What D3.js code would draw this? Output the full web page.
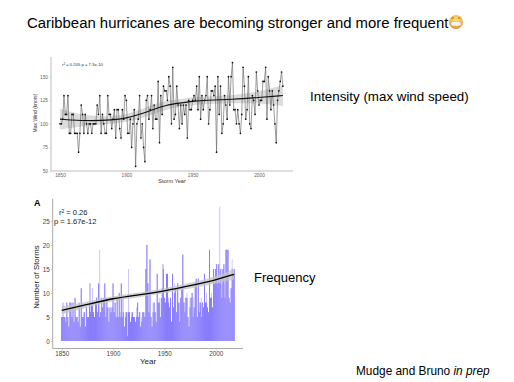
<!DOCTYPE html>
<html><head><meta charset="utf-8">
<script src="https://cdn.jsdelivr.net/npm/d3@7"></script>
<style>html,body{margin:0;padding:0;background:#fff}svg{display:block}text{font-family:"Liberation Sans",Arial,sans-serif}</style>
</head><body><svg id="c" width="514" height="382"></svg>
<script>
const startYear = 1850;
const windSpeed = [
100,100,105,130,110,110,130,90,90,110,
110,90,90,90,70,90,120,110,90,110,
100,90,100,100,90,100,100,100,120,110,
130,90,110,100,90,90,130,110,110,95,
105,115,85,115,115,95,85,115,105,130,
125,90,90,105,75,100,115,55,100,105,
130,85,100,75,60,125,130,105,115,130,
95,120,105,105,145,80,130,110,140,135,
135,125,150,140,100,160,105,110,140,120,
95,120,100,120,110,120,85,125,115,115,
125,130,125,140,115,150,105,130,115,125,
130,150,100,115,135,135,130,140,70,150,
110,140,90,100,130,120,105,150,120,150,
165,115,115,100,115,100,90,110,160,140,
105,115,150,100,95,130,125,110,155,135,
120,125,125,145,145,160,105,150,135,115,
135,120,100,80,125,135,145,155,140];
const stormsDark = [
5,5,5,5,4,8,5,3,8,8,
5,8,4,9,5,5,4,8,3,11,
5,5,6,3,7,5,5,8,6,8,
8,6,5,8,9,6,12,5,6,9,
7,9,12,5,9,7,4,7,6,7,
12,6,8,5,9,5,10,5,12,5,
6,3,5,6,1,6,6,4,5,6,
5,5,4,5,8,5,6,3,4,6,
6,5,15,20,12,6,17,5,3,6,
8,6,4,14,8,8,5,9,11,15,
9,8,14,14,8,7,9,4,14,7,
10,11,6,12,8,4,9,11,18,8,
6,9,9,5,3,7,9,10,5,7,
12,13,5,13,6,8,5,8,7,14,
8,8,7,6,19,9,9,7,15,12,
15,16,12,16,12,15,9,15,16,9,
19,19,19,9,8,11,15,14,15];
const stormsLight = [
5,8,8,5,5,8,5,3,8,8,
5,8,4,9,5,5,4,8,3,11,
5,6,6,3,7,5,5,12,12,8,
11,6,5,8,9,6,12,19,6,9,
7,9,12,6,9,7,4,7,6,7,
12,6,8,5,9,5,10,6,12,9,
9,3,6,6,6,15,6,4,6,6,
5,5,4,7,8,5,6,3,5,6,
6,5,15,20,12,6,17,5,3,8,
8,6,4,14,8,9,5,9,16,16,
9,8,14,14,9,7,9,4,14,7,
12,11,6,12,8,8,9,11,18,8,
8,9,10,5,3,9,9,10,9,7,
12,13,5,13,8,8,9,8,7,14,
8,10,7,6,19,9,10,7,15,12,
15,16,12,16,28,15,12,15,16,12,
19,19,19,9,8,11,17,14,15];
const trendYears = [1850,1870,1890,1900,1910,1920,1930,1940,1950,1960,1980,2000,2018];
const windTrend = [105,103,104,106,110,115,120,122,124,125,126,128,130];
const windBand = [11,5,4,4,5,5,5,4,4,4,4,6,11];
const stormYears = [1850,1875,1900,1925,1950,1975,2000,2018];
const stormTrend = [6.4,7.6,8.9,9.6,10.4,11.5,12.7,13.9];
const stormBand = [.8,.6,.5,.5,.5,.6,.7,1.1];
const windTicks = [50,75,100,125,150];
const yearTicks = [1850,1900,1950,2000];
const stormTicks = [0,5,10,15,20,25];

const svg = d3.select("#c");
const T = (s,x,y,size,extra={})=>{const t=svg.append("text").attr("x",x).attr("y",y).attr("font-size",size).attr("fill",extra.fill||"#000").text(s);
  if(extra.anchor)t.attr("text-anchor",extra.anchor); if(extra.weight)t.attr("font-weight",extra.weight);
  if(extra.rot)t.attr("transform",`rotate(-90 ${x} ${y})`); return t;};

T("Caribbean hurricanes are becoming stronger and more frequent",27,28,14.9);
T("Intensity (max wind speed)",310,101,13.35);
T("Frequency",254,282,13);
const cite=T("Mudge and Bruno ",356,375,11.85); cite.append("tspan").attr("font-style","italic").text("in prep");

// emoji
const defs=svg.append("defs");
const g=defs.append("radialGradient").attr("id","em").attr("cx","50%").attr("cy","35%").attr("r","65%");
g.append("stop").attr("offset","0%").attr("stop-color","#fbe27a");
g.append("stop").attr("offset","70%").attr("stop-color","#f3b54a");
g.append("stop").attr("offset","100%").attr("stop-color","#d98a2b");
svg.append("circle").attr("cx",456).attr("cy",22).attr("r",7).attr("fill","url(#em)");
svg.append("rect").attr("x",451).attr("y",21.5).attr("width",10).attr("height",4.5).attr("rx",2).attr("fill","#f4f4ee").attr("stroke","#a8a08a").attr("stroke-width",.4);
svg.append("rect").attr("x",451.5).attr("y",17.5).attr("width",2.5).attr("height",1).attr("fill","#a06a20");
svg.append("rect").attr("x",458).attr("y",17.5).attr("width",2.5).attr("height",1).attr("fill","#a06a20");

function styleAxis(a,col,w,tc,fs){
  a.select(".domain").attr("stroke",col).attr("stroke-width",w);
  a.selectAll(".tick line").attr("stroke",col).attr("stroke-width",.6);
  a.selectAll(".tick text").attr("fill",tc).attr("font-size",fs).attr("font-family",'"Liberation Sans",Arial,sans-serif');
}

// Top chart
const x1=d3.scaleLinear().domain([1850,2000]).range([60,259]);
const y1=d3.scaleLinear().domain([50,150]).range([171,76.7]);
const wind=windSpeed.map((v,i)=>({y:startYear+i,v}));
const bandData=trendYears.map((y,i)=>({y,m:windTrend[i],b:windBand[i]}));
svg.append("path").datum(bandData).attr("fill","#d6d6d6").attr("opacity",.85)
  .attr("d",d3.area().x(d=>x1(d.y)).y0(d=>y1(d.m-d.b)).y1(d=>y1(d.m+d.b)).curve(d3.curveBasis));
svg.append("path").datum(wind).attr("fill","none").attr("stroke","#666").attr("stroke-width",.65)
  .attr("d",d3.line().x(d=>x1(d.y)).y(d=>y1(d.v)));
svg.append("g").selectAll("circle").data(wind).join("circle")
  .attr("cx",d=>x1(d.y)).attr("cy",d=>y1(d.v)).attr("r",.85).attr("fill","#111");
svg.append("path").datum(bandData).attr("fill","none").attr("stroke","#111").attr("stroke-width",1.1)
  .attr("d",d3.line().x(d=>x1(d.y)).y(d=>y1(d.m)).curve(d3.curveBasis));
const ax1=svg.append("g").attr("transform","translate(0,171)").call(d3.axisBottom(x1).tickValues(yearTicks).tickFormat(d3.format("d")).tickSize(1.5).tickPadding(1.5).tickSizeOuter(0));
ax1.select(".domain").attr("d","M51,0H293");
styleAxis(ax1,"#bdbdbd",1,"#666",4.8);
const ay1=svg.append("g").attr("transform","translate(51,0)").call(d3.axisLeft(y1).tickValues(windTicks).tickSize(1.5).tickPadding(1.5).tickSizeOuter(0));
ay1.select(".domain").attr("d","M0,57V171");
styleAxis(ay1,"#bdbdbd",1,"#666",4.8);
T("Storm Year",172,183,5.6,{anchor:"middle",fill:"#333"});
T("Max Wind (knots)",37,113,5,{anchor:"middle",fill:"#333",rot:true});
const r1=T("r",62,66,4.2,{fill:"#333"});
r1.append("tspan").attr("dy",-1.5).attr("font-size",3).text("2");
r1.append("tspan").attr("dy",1.5).text(" = 0.205  p = 7.3e-10");

// Bottom chart
const x2=d3.scaleLinear().domain([1850,2000]).range([61.7,215.7]);
const y2=d3.scaleLinear().domain([0,25]).range([341,221]);
const bw=.85;
svg.append("g").selectAll("rect").data(stormsLight).join("rect")
  .attr("x",(d,i)=>x2(startYear+i)-bw/2).attr("width",bw).attr("y",d=>y2(d)).attr("height",d=>y2(0)-y2(d)).attr("fill","#c3bcfb");
svg.append("g").selectAll("rect").data(stormsDark).join("rect")
  .attr("x",(d,i)=>x2(startYear+i)-bw/2).attr("width",bw).attr("y",d=>y2(d)).attr("height",d=>y2(0)-y2(d)).attr("fill","#7d70fb");
const sb=stormYears.map((y,i)=>({y,m:stormTrend[i],b:stormBand[i]}));
svg.append("path").datum(sb).attr("fill","#c4c4c4").attr("opacity",.75)
  .attr("d",d3.area().x(d=>x2(d.y)).y0(d=>y2(d.m-d.b)).y1(d=>y2(d.m+d.b)).curve(d3.curveBasis));
svg.append("path").datum(sb).attr("fill","none").attr("stroke","#000").attr("stroke-width",1.3)
  .attr("d",d3.line().x(d=>x2(d.y)).y(d=>y2(d.m)).curve(d3.curveBasis));
const ax2=svg.append("g").attr("transform","translate(0,348.5)").call(d3.axisBottom(x2).tickValues(yearTicks).tickFormat(d3.format("d")).tickSize(2).tickPadding(1.5).tickSizeOuter(0));
ax2.select(".domain").attr("d","M52.7,0H243");
styleAxis(ax2,"#a8a8a8",1,"#444",6.3);
const ay2=svg.append("g").attr("transform","translate(52.7,0)").call(d3.axisLeft(y2).tickValues(stormTicks).tickSize(2).tickPadding(1).tickSizeOuter(0));
ay2.select(".domain").attr("d","M0,199V348.5");
styleAxis(ay2,"#a8a8a8",1,"#444",6.3);
T("A",34,206,9,{weight:"bold"});
const r2=T("r",59,215,7.5,{fill:"#222"});
r2.append("tspan").attr("dy",-2.5).attr("font-size",5).text("2");
r2.append("tspan").attr("dy",2.5).text(" = 0.26");
T("p = 1.67e-12",54,224,7.5,{fill:"#222"});
T("Year",148,364,8,{anchor:"middle",fill:"#222"});
T("Number of Storms",39,277,7.8,{anchor:"middle",fill:"#222",rot:true});
</script></body></html>
